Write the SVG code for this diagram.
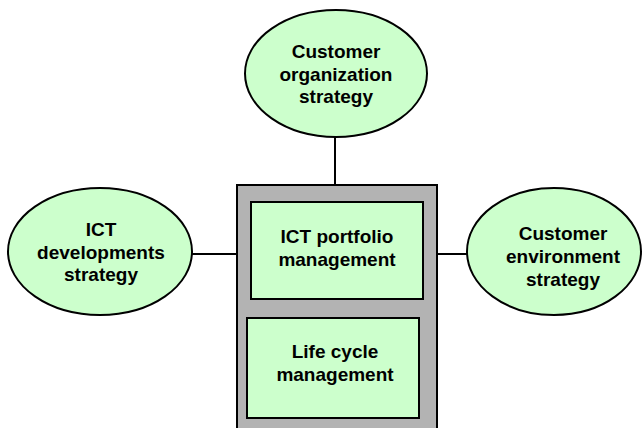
<svg xmlns="http://www.w3.org/2000/svg" width="642" height="428" viewBox="0 0 642 428">
<style>
.n{fill:#ccffcc;stroke:#000;stroke-width:2}
.g{fill:#b3b3b3;stroke:#000;stroke-width:2}
.c{stroke:#000;stroke-width:2;fill:none}
text{font-family:"Liberation Sans",Arial,sans-serif;font-weight:bold;font-size:19px;text-anchor:middle;fill:#000}
</style>
<rect width="642" height="428" fill="#fff"/>
<g id="connectors">
<line class="c" x1="335" y1="137" x2="335" y2="185"/>
<line class="c" x1="192" y1="254" x2="237" y2="254"/>
<line class="c" x1="437" y1="254" x2="467" y2="254"/>
</g>
<g id="container">
<rect class="g" x="237" y="185" width="200" height="260"/>
</g>
<g id="top">
<ellipse class="n" cx="336" cy="73.5" rx="91" ry="63.5"/>
<text x="336" y="58">Customer</text>
<text x="336" y="81">organization</text>
<text x="336" y="103">strategy</text>
</g>
<g id="left">
<ellipse class="n" cx="100" cy="251.5" rx="92" ry="63.5"/>
<text x="101" y="236">ICT</text>
<text x="101" y="259">developments</text>
<text x="101" y="281">strategy</text>
</g>
<g id="right">
<ellipse class="n" cx="554" cy="251.5" rx="87" ry="63.5"/>
<text x="563" y="240">Customer</text>
<text x="563" y="263">environment</text>
<text x="563" y="286">strategy</text>
</g>
<g id="portfolio">
<rect class="n" x="251" y="202" width="172" height="97"/>
<text x="337" y="243">ICT portfolio</text>
<text x="337" y="266">management</text>
</g>
<g id="lifecycle">
<rect class="n" x="247" y="318" width="172" height="100"/>
<text x="335" y="358">Life cycle</text>
<text x="335" y="381">management</text>
</g>
</svg>
